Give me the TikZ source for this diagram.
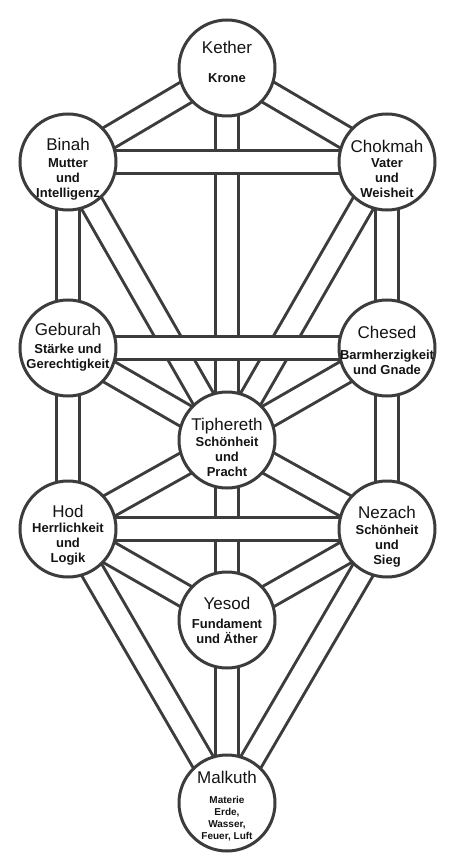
\documentclass[tikz,border=0pt]{standalone}
\usepackage{fontspec}
\setmainfont{Liberation Sans}
\usetikzlibrary{backgrounds}
\definecolor{linegray}{HTML}{3C3C3C}
\definecolor{inkblack}{HTML}{141414}

\begin{document}
\begin{tikzpicture}[x=1pt,y=-1pt,
    sephira/.style={circle,draw=linegray,line width=3pt,fill=white,
                    minimum size=96pt,inner sep=0pt},
    sname/.style={text=inkblack,font=\fontsize{17}{20}\selectfont},
    meaning/.style={text=inkblack,align=center,
                    font=\bfseries\fontsize{13}{15}\selectfont},
    smallmeaning/.style={meaning,font=\bfseries\fontsize{10}{12}\selectfont},
    channel/.style={draw=linegray,line width=3pt,double=white,
                    double distance=20pt}]
  \useasboundingbox (0,0) rectangle (449,866);

  % the ten spheres
  \node[sephira] (kether)    at (227,68)  {};
  \node[sephira] (binah)     at (68,162)  {};
  \node[sephira] (chokmah)   at (387,162) {};
  \node[sephira] (geburah)   at (68,348)  {};
  \node[sephira] (chesed)    at (387,348) {};
  \node[sephira] (tiphereth) at (227,440) {};
  \node[sephira] (hod)       at (68,529)  {};
  \node[sephira] (nezach)    at (387,529) {};
  \node[sephira] (yesod)     at (227,620) {};
  \node[sephira] (malkuth)   at (227,803) {};

  % names and meanings
  \node[sname,yshift=21pt]    (kether-n)    at (kether)    {Kether};
  \node[meaning,yshift=-10pt] (kether-m)    at (kether)    {Krone};
  \node[sname,yshift=18pt]    (binah-n)     at (binah)     {Binah};
  \node[meaning,yshift=-17pt] (binah-m)     at (binah)     {Mutter\\und\\Intelligenz};
  \node[sname,yshift=16pt]    (chokmah-n)   at (chokmah)   {Chokmah};
  \node[meaning,yshift=-16pt] (chokmah-m)   at (chokmah)   {Vater\\und\\Weisheit};
  \node[sname,yshift=19pt]    (geburah-n)   at (geburah)   {Geburah};
  \node[meaning,yshift=-10pt] (geburah-m)   at (geburah)   {Stärke und\\Gerechtigkeit};
  \node[sname,yshift=16pt]    (chesed-n)    at (chesed)    {Chesed};
  \node[meaning,yshift=-14pt] (chesed-m)    at (chesed)    {Barmherzigkeit\\und Gnade};
  \node[sname,yshift=14pt]    (tiphereth-n) at (tiphereth) {Tiphereth};
  \node[meaning,yshift=-17pt] (tiphereth-m) at (tiphereth) {Schönheit\\und\\Pracht};
  \node[sname,yshift=18pt]    (hod-n)       at (hod)       {Hod};
  \node[meaning,yshift=-15pt] (hod-m)       at (hod)       {Herrlichkeit\\und\\Logik};
  \node[sname,yshift=17pt]    (nezach-n)    at (nezach)    {Nezach};
  \node[meaning,yshift=-17pt] (nezach-m)    at (nezach)    {Schönheit\\und\\Sieg};
  \node[sname,yshift=17pt]    (yesod-n)     at (yesod)     {Yesod};
  \node[meaning,yshift=-11pt] (yesod-m)     at (yesod)     {Fundament\\und Äther};
  \node[sname,yshift=26pt]    (malkuth-n)   at (malkuth)   {Malkuth};
  \node[smallmeaning,yshift=-16pt] (malkuth-m) at (malkuth)
       {Materie\\Erde,\\Wasser,\\Feuer, Luft};

  % the paths, bars last so they lie on top
  \begin{pgfonlayer}{background}
    \path[every edge/.style=channel]
      (kether.center)    edge (binah.center)
                         edge (chokmah.center)
      (binah.center)     edge (tiphereth.center)
                         edge (geburah.center)
      (chokmah.center)   edge (tiphereth.center)
                         edge (chesed.center)
      (geburah.center)   edge (tiphereth.center)
                         edge (hod.center)
      (chesed.center)    edge (tiphereth.center)
                         edge (nezach.center)
      (hod.center)       edge (tiphereth.center)
                         edge (yesod.center)
                         edge (malkuth.center)
      (nezach.center)    edge (tiphereth.center)
                         edge (yesod.center)
                         edge (malkuth.center)
      (kether.center)    edge (tiphereth.center)
      (tiphereth.center) edge (yesod.center)
      (yesod.center)     edge (malkuth.center)
      (binah.center)     edge (chokmah.center)
      (geburah.center)   edge (chesed.center)
      (hod.center)       edge (nezach.center);
  \end{pgfonlayer}
\end{tikzpicture}
\end{document}
